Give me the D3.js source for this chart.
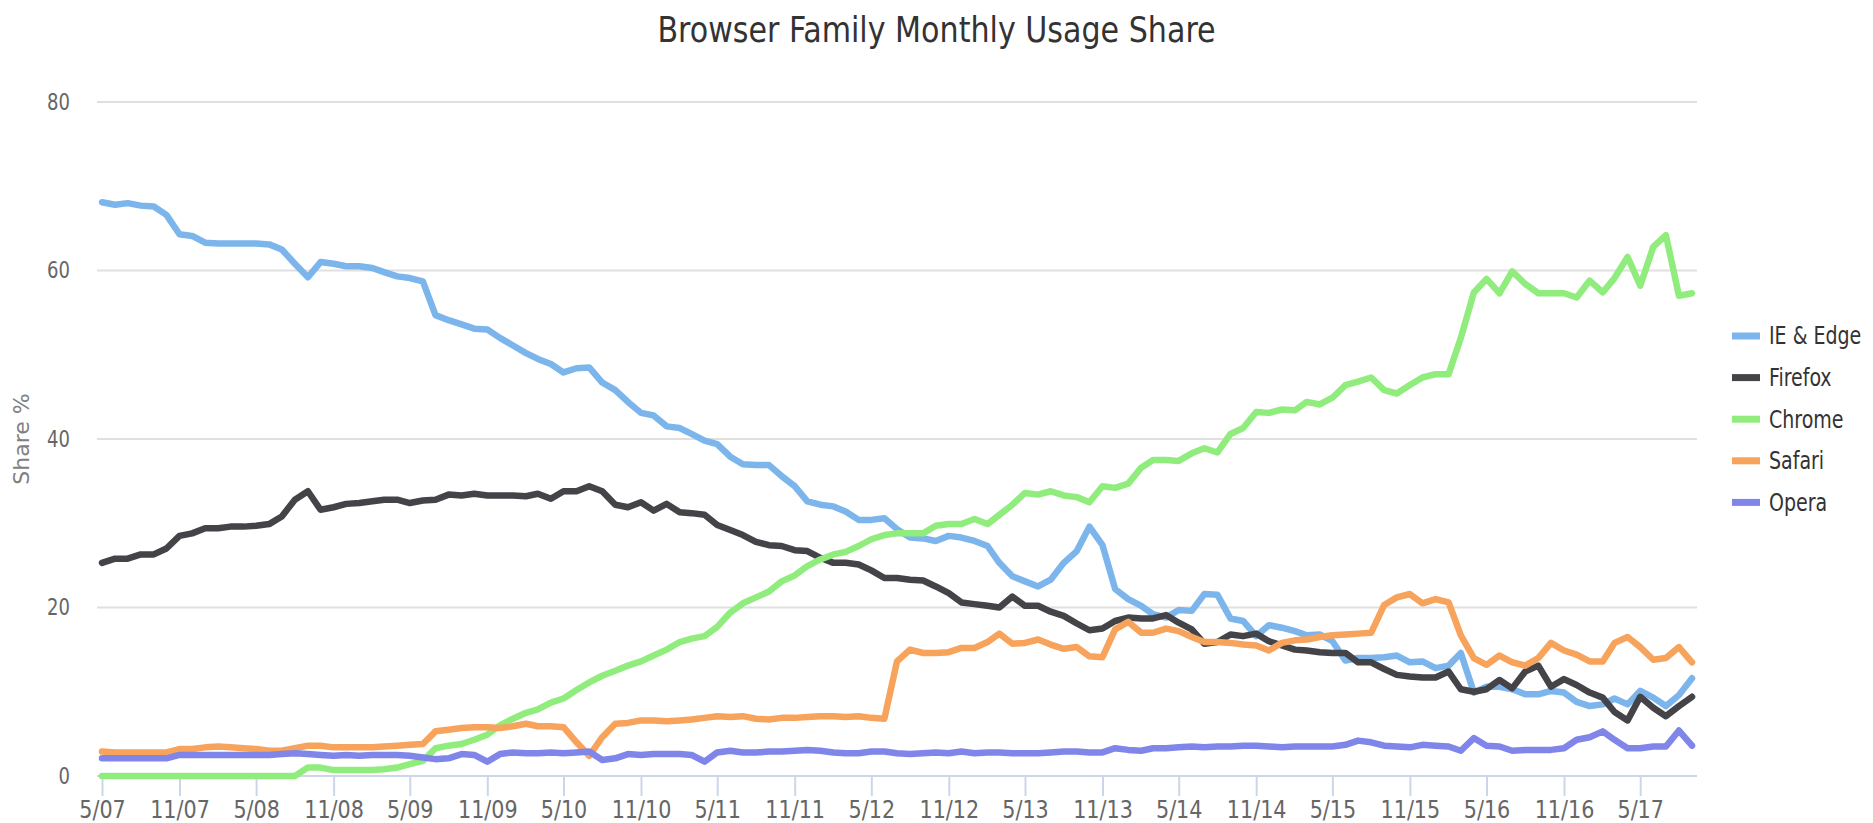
<!DOCTYPE html>
<html>
<head>
<meta charset="utf-8">
<title>Browser Family Monthly Usage Share</title>
<script src="https://d3js.org/d3.v7.min.js"></script>
<style>
  body { margin: 0; background: #ffffff; }
  .narrow { font-family: 'Liberation Sans Narrow', 'DejaVu Sans Condensed', 'Roboto Condensed', 'Open Sans', sans-serif; font-stretch: condensed; }
</style>
</head>
<body>
<script>
// Primo mese della serie (maggio 2007), un valore al mese fino a settembre 2017
var firstMonth = new Date(Date.UTC(2007, 4, 1));

// Quote mensili (%)
var ieEdge = [68.1, 67.8, 68.0, 67.7, 67.6, 66.6, 64.3, 64.1, 63.3, 63.2,
    63.2, 63.2, 63.2, 63.1, 62.5, 60.8, 59.2, 61.0, 60.8, 60.5,
    60.5, 60.3, 59.8, 59.3, 59.1, 58.7, 54.7, 54.1, 53.6, 53.1,
    53.0, 52.0, 51.1, 50.2, 49.5, 48.9, 47.9, 48.4, 48.5, 46.7,
    45.8, 44.4, 43.1, 42.8, 41.5, 41.3, 40.6, 39.8, 39.4, 37.9,
    37.0, 36.9, 36.9, 35.6, 34.4, 32.6, 32.2, 32.0, 31.4, 30.4,
    30.4, 30.6, 29.3, 28.3, 28.2, 27.9, 28.5, 28.3, 27.9, 27.3,
    25.3, 23.7, 23.1, 22.5, 23.3, 25.3, 26.7, 29.6, 27.4, 22.2,
    21.0, 20.2, 19.2, 18.8, 19.7, 19.6, 21.6, 21.5, 18.7, 18.4,
    16.6, 17.9, 17.6, 17.2, 16.7, 16.8, 16.0, 13.7, 14.0, 14.0,
    14.1, 14.3, 13.5, 13.6, 12.8, 13.1, 14.6, 9.9, 10.6, 10.6,
    10.3, 9.7, 9.7, 10.1, 9.9, 8.8, 8.3, 8.5, 9.2, 8.5,
    10.1, 9.3, 8.3, 9.6, 11.6];

var firefox = [25.3, 25.8, 25.8, 26.3, 26.3, 27.0, 28.5, 28.8, 29.4, 29.4,
    29.6, 29.6, 29.7, 29.9, 30.8, 32.8, 33.8, 31.6, 31.9, 32.3,
    32.4, 32.6, 32.8, 32.8, 32.4, 32.7, 32.8, 33.4, 33.3, 33.5,
    33.3, 33.3, 33.3, 33.2, 33.5, 32.9, 33.8, 33.8, 34.4, 33.8,
    32.2, 31.9, 32.5, 31.5, 32.3, 31.3, 31.2, 31.0, 29.8, 29.2,
    28.6, 27.8, 27.4, 27.3, 26.8, 26.7, 25.9, 25.3, 25.3, 25.1,
    24.4, 23.5, 23.5, 23.3, 23.2, 22.5, 21.7, 20.6, 20.4, 20.2,
    20.0, 21.3, 20.2, 20.2, 19.5, 19.0, 18.1, 17.3, 17.5, 18.4,
    18.8, 18.7, 18.7, 19.1, 18.2, 17.4, 15.7, 15.9, 16.8, 16.6,
    16.9, 16.0, 15.5, 15.0, 14.9, 14.7, 14.6, 14.6, 13.5, 13.5,
    12.7, 12.0, 11.8, 11.7, 11.7, 12.4, 10.3, 10.0, 10.3, 11.4,
    10.4, 12.4, 13.1, 10.6, 11.5, 10.8, 9.9, 9.3, 7.6, 6.6,
    9.4, 8.1, 7.1, 8.3, 9.4];

var chrome = [0, 0, 0, 0, 0, 0, 0, 0, 0, 0,
    0, 0, 0, 0, 0, 0, 1.0, 1.0, 0.7, 0.7,
    0.7, 0.7, 0.8, 1.0, 1.4, 1.8, 3.3, 3.6, 3.8, 4.3,
    4.9, 6.0, 6.8, 7.5, 7.9, 8.7, 9.2, 10.2, 11.1, 11.9,
    12.5, 13.1, 13.6, 14.3, 15.0, 15.9, 16.3, 16.6, 17.7, 19.4,
    20.5, 21.2, 21.9, 23.1, 23.8, 24.9, 25.7, 26.3, 26.6, 27.3,
    28.1, 28.6, 28.8, 28.8, 28.8, 29.7, 29.9, 29.9, 30.5, 29.9,
    31.0, 32.2, 33.6, 33.4, 33.8, 33.3, 33.1, 32.5, 34.4, 34.2,
    34.7, 36.6, 37.5, 37.5, 37.4, 38.3, 38.9, 38.4, 40.6, 41.3,
    43.2, 43.1, 43.5, 43.4, 44.4, 44.1, 44.9, 46.4, 46.8, 47.3,
    45.8, 45.4, 46.4, 47.3, 47.7, 47.7, 52.0, 57.4, 59.0, 57.3,
    59.9, 58.4, 57.3, 57.3, 57.3, 56.8, 58.8, 57.4, 59.1, 61.6,
    58.2, 62.8, 64.2, 57.0, 57.3];

var safari = [2.9, 2.8, 2.8, 2.8, 2.8, 2.8, 3.2, 3.2, 3.4, 3.5,
    3.4, 3.3, 3.2, 3.0, 3.0, 3.3, 3.6, 3.6, 3.4, 3.4,
    3.4, 3.4, 3.5, 3.6, 3.7, 3.8, 5.3, 5.5, 5.7, 5.8,
    5.8, 5.7, 5.9, 6.2, 5.9, 5.9, 5.8, 4.0, 2.4, 4.6,
    6.2, 6.3, 6.6, 6.6, 6.5, 6.6, 6.7, 6.9, 7.1, 7.0,
    7.1, 6.8, 6.7, 6.9, 6.9, 7.0, 7.1, 7.1, 7.0, 7.1,
    6.9, 6.8, 13.6, 15.0, 14.6, 14.6, 14.7, 15.2, 15.2, 15.9,
    16.9, 15.7, 15.8, 16.2, 15.6, 15.1, 15.3, 14.2, 14.1, 17.4,
    18.3, 17.0, 17.0, 17.5, 17.2, 16.5, 15.9, 15.9, 15.8, 15.6,
    15.5, 14.9, 15.8, 16.1, 16.2, 16.5, 16.7, 16.8, 16.9, 17.0,
    20.3, 21.2, 21.6, 20.5, 21.0, 20.6, 16.7, 14.0, 13.2, 14.3,
    13.5, 13.1, 14.0, 15.8, 14.9, 14.4, 13.6, 13.6, 15.8, 16.5,
    15.3, 13.8, 14.0, 15.3, 13.5];

var opera = [2.1, 2.1, 2.1, 2.1, 2.1, 2.1, 2.5, 2.5, 2.5, 2.5,
    2.5, 2.5, 2.5, 2.5, 2.6, 2.7, 2.6, 2.5, 2.4, 2.5,
    2.4, 2.5, 2.5, 2.5, 2.4, 2.2, 2.0, 2.1, 2.6, 2.5,
    1.7, 2.6, 2.8, 2.7, 2.7, 2.8, 2.7, 2.8, 2.9, 1.9,
    2.1, 2.6, 2.5, 2.6, 2.6, 2.6, 2.5, 1.7, 2.8, 3.0,
    2.8, 2.8, 2.9, 2.9, 3.0, 3.1, 3.0, 2.8, 2.7, 2.7,
    2.9, 2.9, 2.7, 2.6, 2.7, 2.8, 2.7, 2.9, 2.7, 2.8,
    2.8, 2.7, 2.7, 2.7, 2.8, 2.9, 2.9, 2.8, 2.8, 3.3,
    3.1, 3.0, 3.3, 3.3, 3.4, 3.5, 3.4, 3.5, 3.5, 3.6,
    3.6, 3.5, 3.4, 3.5, 3.5, 3.5, 3.5, 3.7, 4.2, 4.0,
    3.6, 3.5, 3.4, 3.7, 3.6, 3.5, 3.0, 4.5, 3.6, 3.5,
    3.0, 3.1, 3.1, 3.1, 3.3, 4.3, 4.6, 5.3, 4.3, 3.3,
    3.3, 3.5, 3.5, 5.4, 3.6];

var seriesNames = ["IE & Edge", "Firefox", "Chrome", "Safari", "Opera"];
var seriesValues = [ieEdge, firefox, chrome, safari, opera];
var colour = ["#7cb5ec", "#434348", "#90ed7d", "#f7a35c", "#8085e9"];

var yTicks = [0, 20, 40, 60, 80];

var totalWidth = 1873;
var totalHeight = 823;

// Area del grafico
var plot = {left: 97, right: 1697, top: 102, bottom: 776};

var months = d3.utcMonth.range(firstMonth, d3.utcMonth.offset(firstMonth, ieEdge.length));

// Il font originale è più stretto di quelli disponibili:
// si comprime il testo in orizzontale di un fattore k
function squeeze(sel, k) {
    sel.each(function() {
        var w = this.getComputedTextLength();
        d3.select(this)
            .attr("textLength", w * k)
            .attr("lengthAdjust", "spacingAndGlyphs");
    });
}

var svg = d3.select("body").append("svg")
    .attr("width", totalWidth)
    .attr("height", totalHeight);

var x = d3.scaleUtc()
    .domain([months[0], months[months.length - 1]])
    .range([plot.left + 5, plot.right - 5]);

var y = d3.scaleLinear()
    .domain([0, 80])
    .range([plot.bottom, plot.top]);

// titolo
svg.append("text")
    .attr("class", "narrow")
    .attr("x", totalWidth / 2)
    .attr("y", 42)
    .attr("text-anchor", "middle")
    .attr("font-size", "36px")
    .attr("fill", "#333333")
    .text("Browser Family Monthly Usage Share")
    .call(squeeze, 0.93);

// griglia orizzontale
svg.append("g").selectAll("line")
    .data(yTicks.filter(function(d) { return d > 0; }))
    .enter().append("line")
    .attr("x1", plot.left)
    .attr("x2", plot.right)
    .attr("y1", function(d) { return y(d); })
    .attr("y2", function(d) { return y(d); })
    .attr("stroke", "#e0e0e0")
    .attr("stroke-width", 2);

// etichette asse y
var yAxis = d3.axisLeft(y).tickValues(yTicks).tickSize(0).tickPadding(0);
svg.append("g")
    .attr("class", "y axis")
    .attr("transform", "translate(70,0)")
    .call(yAxis)
    .call(function(g) { g.select(".domain").remove(); })
    .selectAll("text")
    .attr("class", "narrow")
    .attr("font-size", "23px")
    .attr("fill", "#666666")
    .call(squeeze, 0.87);

svg.append("text")
    .attr("transform", "translate(29," + ((plot.top + plot.bottom) / 2) + ") rotate(-90)")
    .attr("text-anchor", "middle")
    .attr("font-family", "'DejaVu Sans', sans-serif")
    .attr("font-size", "22px")
    .attr("fill", "#808080")
    .text("Share %");

// asse x
var tickMonths = d3.utcMonth.range(firstMonth, months[months.length - 1], 6);
var xAxis = d3.axisBottom(x)
    .tickValues(tickMonths)
    .tickFormat(d3.utcFormat("%-m/%y"))
    .tickSize(20)
    .tickSizeOuter(0)
    .tickPadding(4);

var gx = svg.append("g")
    .attr("class", "x axis")
    .attr("transform", "translate(0," + plot.bottom + ")")
    .call(xAxis);
gx.select(".domain")
    .attr("d", "M" + plot.left + ",0H" + plot.right)
    .attr("stroke", "#ccd6eb")
    .attr("stroke-width", 2);
gx.selectAll(".tick line").attr("stroke", "#ccd6eb").attr("stroke-width", 2);
gx.selectAll(".tick text")
    .attr("class", "narrow")
    .attr("font-size", "25px")
    .attr("fill", "#666666")
    .call(squeeze, 0.92);

// linee delle serie
var line = d3.line()
    .x(function(d, i) { return x(months[i]); })
    .y(function(d) { return y(d); });

svg.append("g").selectAll("path")
    .data(seriesValues)
    .enter().append("path")
    .attr("d", function(d) { return line(d); })
    .attr("fill", "none")
    .attr("stroke", function(d, i) { return colour[i]; })
    .attr("stroke-width", 6.5)
    .attr("stroke-linejoin", "round")
    .attr("stroke-linecap", "round");

// legenda
var legend = svg.append("g").selectAll("g")
    .data(seriesNames)
    .enter().append("g")
    .attr("transform", function(d, i) { return "translate(1732," + (336 + i * 41.6) + ")"; });

legend.append("line")
    .attr("x1", 0)
    .attr("x2", 28)
    .attr("stroke", function(d, i) { return colour[i]; })
    .attr("stroke-width", 7);

legend.append("text")
    .attr("class", "narrow")
    .attr("x", 37)
    .attr("dy", "0.35em")
    .attr("font-size", "24px")
    .attr("fill", "#333333")
    .text(function(d) { return d; })
    .call(squeeze, 0.88);
</script>
</body>
</html>
